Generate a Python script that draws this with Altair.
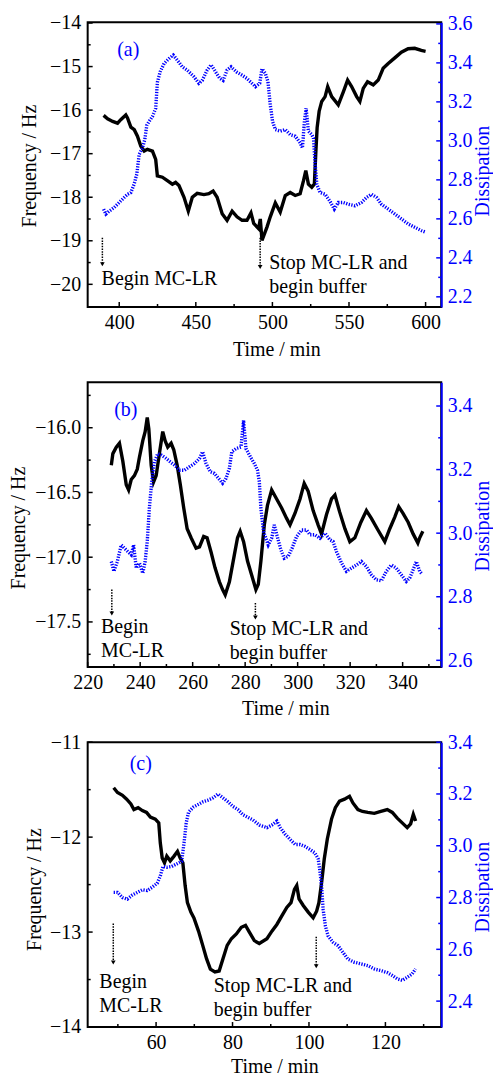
import altair as alt
import pandas as pd

FONT = "Liberation Serif"
BLUE = "#0000ff"
W, H = 355, 286

# ---------------- panel (a) ----------------
a_ft = [389.8, 392.4, 395.7, 398.9, 401.0, 404.3, 405.4, 407.6, 409.8, 411.9, 414.1, 416.3, 418.4, 421.7,
        423.8, 424.9, 428.2, 431.4, 434.7, 436.8, 439.0, 442.3, 445.1, 447.7, 450.9, 455.3, 458.5, 461.3,
        463.9, 467.2, 470.4, 473.7, 476.9, 480.2, 483.4, 486.0, 487.8, 491.0, 492.1, 493.2, 496.5, 498.6,
        501.9, 505.1, 508.4, 511.6, 514.9, 518.1, 520.3, 521.8, 523.5, 525.7, 527.4, 528.3, 529.2, 530.5,
        532.2, 534.4, 536.1, 538.7, 543.0, 546.3, 549.1, 551.7, 555.0, 557.1, 559.3, 562.1, 565.8, 569.1,
        572.3, 575.6, 579.9, 584.2, 588.6, 592.9, 597.2, 600.0]
a_fv = [-16.12, -16.2, -16.26, -16.3, -16.22, -16.11, -16.18, -16.39, -16.45, -16.6, -16.83, -16.94, -16.9, -16.94,
        -17.13, -17.51, -17.54, -17.62, -17.7, -17.66, -17.73, -18.0, -18.32, -18.0, -17.91, -17.94, -17.92, -17.86,
        -18.0, -18.38, -18.53, -18.32, -18.45, -18.53, -18.53, -18.36, -18.6, -18.72, -18.5, -18.99, -18.68, -18.45,
        -18.13, -18.34, -17.96, -17.89, -17.96, -17.92, -17.62, -17.39, -17.7, -17.77, -17.7, -17.0, -16.4, -16.03,
        -15.8, -15.69, -15.46, -15.69, -15.88, -15.58, -15.31, -15.46, -15.69, -15.8, -15.5, -15.35, -15.42, -15.31,
        -15.04, -14.93, -14.8, -14.67, -14.59, -14.58, -14.63, -14.65]
a_dt = [389.8, 391.3, 393.5, 396.7, 400.0, 403.3, 405.4, 407.6, 409.8, 411.5, 413.0, 415.2, 416.7, 418.0,
        419.5, 421.7, 423.8, 424.9, 426.7, 429.3, 432.5, 435.3, 437.9, 441.2, 444.4, 448.8, 452.0, 454.2,
        457.4, 460.0, 462.9, 465.7, 467.8, 470.4, 473.0, 476.5, 480.2, 483.4, 486.7, 488.9, 491.7, 493.2,
        495.4, 497.1, 498.6, 500.1, 501.9, 505.1, 508.4, 511.6, 514.9, 518.1, 519.6, 520.9, 522.0, 523.5,
        525.7, 526.8, 527.9, 529.0, 531.1, 534.4, 537.6, 540.4, 543.0, 546.3, 549.6, 553.9, 558.2, 561.5,
        564.7, 568.0, 571.2, 575.6, 579.9, 584.2, 588.6, 592.9, 597.2, 600.0]
a_dv = [2.65, 2.625, 2.64, 2.658, 2.684, 2.71, 2.726, 2.735, 2.78, 2.83, 2.93, 2.964, 3.007, 3.08,
        3.1, 3.125, 3.167, 3.3, 3.354, 3.397, 3.422, 3.44, 3.414, 3.38, 3.363, 3.329, 3.295, 3.31,
        3.363, 3.39, 3.354, 3.32, 3.31, 3.363, 3.38, 3.354, 3.337, 3.32, 3.295, 3.278, 3.295, 3.37,
        3.346, 3.303, 3.185, 3.1, 3.058, 3.05, 3.058, 3.032, 3.024, 2.99, 2.964, 3.1, 3.167, 3.05,
        3.032, 3.015, 2.88, 2.777, 2.735, 2.726, 2.69, 2.65, 2.684, 2.684, 2.675, 2.667, 2.684, 2.71,
        2.726, 2.71, 2.675, 2.65, 2.625, 2.6, 2.574, 2.557, 2.54, 2.532]

# ---------------- panel (b) ----------------
b_ft = [229.0, 229.6, 230.9, 232.1, 233.4, 234.7, 235.6, 236.6, 237.8, 238.9, 239.7, 241.0, 241.9, 242.7,
        243.3, 244.2, 245.1, 246.1, 247.4, 248.6, 249.5, 250.5, 251.8, 252.8, 254.1, 255.3, 256.6, 257.9,
        259.4, 261.3, 262.6, 264.2, 265.5, 267.0, 268.5, 270.2, 271.4, 272.4, 274.0, 275.9, 277.1, 278.1,
        279.4, 280.9, 282.5, 284.1, 285.0, 286.0, 287.3, 288.5, 290.1, 292.0, 293.9, 295.8, 297.1, 299.0,
        300.9, 302.5, 304.0, 305.9, 307.8, 309.1, 311.0, 312.9, 314.2, 316.0, 318.0, 319.9, 321.8, 324.1,
        326.2, 328.1, 330.6, 333.2, 335.1, 337.0, 338.5, 340.1, 342.1, 344.0, 345.8, 346.5, 347.7]
b_fv = [-16.29, -16.2, -16.15, -16.12, -16.26, -16.44, -16.48, -16.4, -16.37, -16.32, -16.23, -16.1, -16.03, -15.92,
        -16.01, -16.29, -16.42, -16.37, -16.19, -16.03, -16.1, -16.15, -16.12, -16.17, -16.29, -16.44, -16.62, -16.78,
        -16.85, -16.93, -16.92, -16.84, -16.85, -16.96, -17.08, -17.19, -17.25, -17.29, -17.19, -16.98, -16.85, -16.8,
        -16.88, -17.03, -17.14, -17.25, -17.21, -17.03, -16.75, -16.6, -16.48, -16.55, -16.62, -16.7, -16.75, -16.66,
        -16.55, -16.43, -16.49, -16.64, -16.75, -16.82, -16.67, -16.55, -16.52, -16.65, -16.78, -16.88, -16.85, -16.73,
        -16.64, -16.7, -16.79, -16.88, -16.78, -16.69, -16.61, -16.66, -16.73, -16.82, -16.89, -16.85, -16.8]
b_dt = [229.0, 230.0, 231.3, 232.8, 234.0, 235.3, 236.6, 237.5, 238.5, 239.7, 241.0, 241.9, 242.7, 243.5,
        244.4, 245.4, 246.7, 248.2, 249.9, 251.5, 253.1, 255.0, 256.9, 258.8, 260.7, 262.6, 263.8, 265.1,
        266.7, 268.3, 269.9, 271.4, 272.7, 274.0, 274.9, 276.5, 278.4, 279.4, 280.3, 282.0, 283.5, 284.7,
        285.4, 286.0, 287.0, 288.8, 290.1, 291.1, 292.4, 293.6, 294.9, 296.4, 297.9, 299.6, 301.5, 303.4,
        304.7, 306.6, 308.5, 310.4, 312.3, 313.5, 314.8, 316.7, 318.6, 320.5, 322.4, 324.3, 326.2, 328.1,
        330.0, 331.9, 333.8, 335.7, 337.6, 339.5, 341.4, 342.7, 344.0, 345.2, 346.5, 347.4]
b_dv = [2.911, 2.88, 2.911, 2.963, 2.953, 2.942, 2.932, 2.963, 2.89, 2.906, 2.874, 2.911, 2.974, 3.078,
        3.162, 3.224, 3.25, 3.245, 3.235, 3.224, 3.214, 3.198, 3.198, 3.209, 3.219, 3.235, 3.256, 3.219,
        3.193, 3.188, 3.172, 3.157, 3.172, 3.204, 3.256, 3.266, 3.271, 3.355, 3.266, 3.24, 3.219, 3.198,
        3.162, 3.078, 3.005, 2.963, 2.984, 3.026, 2.984, 2.948, 2.921, 2.927, 2.953, 2.989, 3.01, 3.01,
        2.995, 2.995, 2.984, 3.0, 2.979, 2.974, 2.942, 2.906, 2.88, 2.89, 2.9, 2.911, 2.895, 2.869,
        2.853, 2.85, 2.88, 2.9, 2.89, 2.869, 2.848, 2.859, 2.885, 2.911, 2.88, 2.871]

# ---------------- panel (c) ----------------
c_ft = [48.9, 49.9, 51.2, 52.3, 53.4, 54.2, 55.3, 56.4, 57.5, 58.5, 59.8, 60.7, 61.1, 61.6, 62.2, 62.8,
        63.7, 64.7, 65.6, 66.3, 67.0, 67.6, 68.2, 69.1, 69.9, 71.1, 72.2, 73.2, 74.2, 75.4, 76.5, 77.5,
        78.6, 79.7, 81.0, 82.3, 83.4, 84.4, 85.7, 87.0, 89.0, 90.3, 91.6, 92.9, 94.2, 95.3, 96.2, 96.8,
        97.4, 98.5, 99.8, 101.1, 102.0, 102.6, 103.3, 104.0, 104.8, 105.9, 106.9, 108.0, 109.3, 110.6,
        111.5, 112.8, 114.0, 115.4, 117.1, 118.8, 120.5, 121.8, 123.1, 124.4, 125.7, 126.6, 127.3, 127.9]
c_fv = [-11.48, -11.53, -11.56, -11.6, -11.65, -11.71, -11.69, -11.72, -11.74, -11.79, -11.81, -11.85, -12.06,
        -12.22, -12.27, -12.2, -12.25, -12.2, -12.15, -12.22, -12.27, -12.51, -12.69, -12.79, -12.85, -12.99,
        -13.14, -13.28, -13.39, -13.42, -13.41, -13.28, -13.14, -13.07, -13.02, -12.95, -12.93, -13.0, -13.09,
        -13.12, -13.07, -12.99, -12.92, -12.83, -12.74, -12.69, -12.55, -12.51, -12.65, -12.72, -12.79, -12.85,
        -12.78, -12.69, -12.48, -12.23, -12.02, -11.81, -11.69, -11.62, -11.6, -11.57, -11.64, -11.71, -11.73,
        -11.74, -11.75, -11.73, -11.71, -11.74, -11.8, -11.85, -11.9, -11.86, -11.76, -11.83]
c_dt = [48.9, 49.9, 51.2, 52.5, 53.8, 55.1, 56.4, 57.7, 59.0, 60.3, 61.1, 61.8, 62.8, 64.1, 65.4, 66.7,
        67.3, 67.9, 68.5, 69.8, 71.1, 72.3, 73.6, 74.9, 76.2, 77.5, 78.8, 80.1, 81.4, 82.7, 84.0, 85.3,
        87.0, 89.0, 90.3, 91.6, 92.5, 93.8, 95.1, 96.4, 97.7, 98.9, 100.2, 101.5, 102.4, 102.8, 103.3,
        103.7, 104.3, 105.0, 106.3, 107.6, 108.9, 110.2, 111.9, 113.6, 115.4, 117.1, 118.8, 120.5, 121.8,
        123.1, 124.4, 125.7, 127.0, 127.9]
c_dv = [2.82, 2.82, 2.8, 2.794, 2.81, 2.82, 2.83, 2.827, 2.84, 2.855, 2.883, 2.92, 2.917, 2.92, 2.93, 2.94,
        3.01, 3.09, 3.13, 3.15, 3.16, 3.17, 3.176, 3.185, 3.2, 3.185, 3.17, 3.152, 3.14, 3.12, 3.11, 3.1,
        3.08, 3.07, 3.08, 3.095, 3.07, 3.044, 3.024, 3.005, 3.005, 2.998, 2.986, 2.973, 2.95, 2.91, 2.845,
        2.755, 2.69, 2.652, 2.627, 2.614, 2.588, 2.562, 2.55, 2.544, 2.537, 2.524, 2.518, 2.51, 2.499,
        2.486, 2.48, 2.492, 2.505, 2.524]

PANELS = [
    dict(letter="(a)", letter_t=398.7, letter_f=-14.76,
         ft=a_ft, fv=a_fv, dt=a_dt, dv=a_dv,
         xdom=[379.4, 610.2], fdom=[-20.52, -13.98], ddom=[2.148, 3.609],
         xlab=[400, 450, 500, 550, 600], xmin=[425, 475, 525, 575],
         flab=[-14, -15, -16, -17, -18, -19, -20], fmin=[-14.5, -15.5, -16.5, -17.5, -18.5, -19.5], ffmt="d",
         dlab=[2.2, 2.4, 2.6, 2.8, 3.0, 3.2, 3.4, 3.6], dmin=[2.3, 2.5, 2.7, 2.9, 3.1, 3.3, 3.5],
         texts=[(388.5, -20.02, "Begin MC-LR"), (497.9, -19.64, "Stop MC-LR and"), (497.9, -20.2, "begin buffer")],
         arrows=[(389.0, -18.93, -19.54), (492.0, -18.93, -19.6)],
         ftx=-52.5, fty=1, dtx=47, dty=6, xtx=12, xty=49),
    dict(letter="(b)", letter_t=230.1, letter_f=-15.91,
         ft=b_ft, fv=b_fv, dt=b_dt, dv=b_dv,
         xdom=[220.0, 354.7], fdom=[-17.848, -15.648], ddom=[2.579, 3.475],
         xlab=[220, 240, 260, 280, 300, 320, 340], xmin=[230, 250, 270, 290, 310, 330, 350],
         flab=[-16.0, -16.5, -17.0, -17.5], fmin=[-15.75, -16.25, -16.75, -17.25, -17.75], ffmt=".1f",
         dlab=[2.6, 2.8, 3.0, 3.2, 3.4], dmin=[2.7, 2.9, 3.1, 3.3],
         texts=[(225.06, -17.585, "Begin"), (225.06, -17.77, "MC-LR"),
                (274.1, -17.6, "Stop MC-LR and"), (274.1, -17.787, "begin buffer")],
         arrows=[(229.2, -17.25, -17.435), (283.9, -17.354, -17.466)],
         ftx=-63, fty=3, dtx=47, dty=1, xtx=21, xty=48),
    dict(letter="(c)", letter_t=53.1, letter_f=-11.294,
         ft=c_ft, fv=c_fv, dt=c_dt, dv=c_dv,
         xdom=[42.1, 134.6], fdom=[-14.0, -11.0], ddom=[2.3, 3.4],
         xlab=[60, 80, 100, 120], xmin=[50, 70, 90, 110, 130],
         flab=[-11, -12, -13, -14], fmin=[-11.5, -12.5, -13.5], ffmt="d",
         dlab=[2.4, 2.6, 2.8, 3.0, 3.2, 3.4], dmin=[2.5, 2.7, 2.9, 3.1, 3.3],
         texts=[(45.16, -13.585, "Begin"), (45.16, -13.84, "MC-LR"),
                (75.1, -13.63, "Stop MC-LR and"), (75.1, -13.88, "begin buffer")],
         arrows=[(48.8, -12.91, -13.32), (101.9, -13.05, -13.36)],
         ftx=-47, fty=4.5, dtx=47, dty=2, xtx=10, xty=46),
]

MAJ, MIN = 5, 3


def make_panel(p):
    xs = alt.Scale(domain=p["xdom"], nice=False, zero=False)
    fs = alt.Scale(domain=p["fdom"], nice=False, zero=False)
    ds = alt.Scale(domain=p["ddom"], nice=False, zero=False)

    fdf = pd.DataFrame({"t": p["ft"], "v": p["fv"]})
    ddf = pd.DataFrame({"t": p["dt"], "v": p["dv"]})

    x_axis = alt.Axis(values=p["xlab"], format="d", title="Time / min", ticks=False, tickSize=0,
                      domain=False, grid=False, labelFont=FONT, labelFontSize=20, labelColor="black",
                      labelBaseline="alphabetic", labelPadding=22, labelFlush=False, labelOverlap=False,
                      titleFont=FONT, titleFontSize=20, titleFontWeight="normal", titleColor="black",
                      titleBaseline="alphabetic", titleAlign="center", titleX=W / 2 + p["xtx"], titleY=p["xty"])
    f_axis = alt.Axis(values=p["flab"], format=p["ffmt"], title="Frequency / Hz", orient="left",
                      ticks=False, tickSize=0, domain=False, grid=False, labelFont=FONT, labelFontSize=20,
                      labelColor="black", labelPadding=7, labelFlush=False, labelOverlap=False,
                      titleFont=FONT, titleFontSize=20, titleFontWeight="normal", titleColor="black",
                      titleAngle=270, titleBaseline="alphabetic", titleAlign="center",
                      titleX=p["ftx"], titleY=H / 2 + p["fty"])
    d_axis = alt.Axis(values=p["dlab"], format=".1f", title="Dissipation", orient="right",
                      ticks=False, tickSize=0, domain=True, domainColor=BLUE, domainWidth=2, grid=False,
                      labelFont=FONT, labelFontSize=20, labelColor=BLUE, labelPadding=6, labelFlush=False,
                      labelOverlap=False, titleFont=FONT, titleFontSize=20, titleFontWeight="normal",
                      titleColor=BLUE, titleAngle=270, titleBaseline="alphabetic", titleAlign="center",
                      titleX=p["dtx"], titleY=H / 2 + p["dty"])

    # main layers carry the axes; helper layers leave the axis unspecified so the
    # explicit settings above win when the shared axes are merged
    freq_line = alt.Chart(fdf).mark_line(color="black", strokeWidth=3.4).encode(
        x=alt.X("t:Q", scale=xs, axis=x_axis),
        y=alt.Y("v:Q", scale=fs, axis=f_axis),
    )

    def yticks(vals, scale, length, right, color):
        df = pd.DataFrame({"v": vals})
        x0 = W if right else 0
        x1 = W - length if right else length
        return alt.Chart(df).mark_rule(color=color, strokeWidth=1.5).encode(
            y=alt.Y("v:Q", scale=scale), x=alt.value(x0), x2=alt.value(x1))

    def xticks(vals, length):
        df = pd.DataFrame({"v": vals})
        return alt.Chart(df).mark_rule(color="black", strokeWidth=1.5).encode(
            x=alt.X("v:Q", scale=xs), y=alt.value(H), y2=alt.value(H - length))

    tdf = pd.DataFrame({"t": [a[0] for a in p["texts"]], "f": [a[1] for a in p["texts"]],
                        "s": [a[2] for a in p["texts"]]})
    texts = alt.Chart(tdf).mark_text(align="left", baseline="alphabetic", font=FONT, fontSize=20,
                                     color="black").encode(
        x=alt.X("t:Q", scale=xs), y=alt.Y("f:Q", scale=fs), text="s:N")

    adf = pd.DataFrame({"t": [a[0] for a in p["arrows"]], "f1": [a[1] for a in p["arrows"]],
                        "f2": [a[2] for a in p["arrows"]]})
    arrow_lines = alt.Chart(adf).mark_rule(color="black", strokeWidth=1.5, strokeDash=[1.5, 1.2]).encode(
        x=alt.X("t:Q", scale=xs), y=alt.Y("f1:Q", scale=fs), y2="f2:Q")
    arrow_heads = alt.Chart(adf).mark_point(shape="triangle-down", filled=True, size=22, color="black",
                                            opacity=1).encode(
        x=alt.X("t:Q", scale=xs), y=alt.Y("f2:Q", scale=fs))

    ldf = pd.DataFrame({"t": [p["letter_t"]], "f": [p["letter_f"]], "s": [p["letter"]]})
    letter = alt.Chart(ldf).mark_text(align="left", baseline="alphabetic", font=FONT, fontSize=20,
                                      color=BLUE).encode(
        x=alt.X("t:Q", scale=xs), y=alt.Y("f:Q", scale=fs), text="s:N")

    freq_layer = alt.layer(
        freq_line,
        yticks(p["flab"], fs, MAJ, False, "black"),
        yticks(p["fmin"], fs, MIN, False, "black"),
        xticks(p["xlab"], MAJ),
        xticks(p["xmin"], MIN),
        texts, arrow_lines, arrow_heads, letter,
    )

    dis_line = alt.Chart(ddf).mark_line(color=BLUE, strokeWidth=3.4, strokeDash=[1.3, 1.4]).encode(
        x=alt.X("t:Q", scale=xs),
        y=alt.Y("v:Q", scale=ds, axis=d_axis),
    )
    dis_layer = alt.layer(
        dis_line,
        yticks(p["dlab"], ds, MAJ, True, BLUE),
        yticks(p["dmin"], ds, MIN, True, BLUE),
    )

    return alt.layer(freq_layer, dis_layer).resolve_scale(y="independent").properties(width=W, height=H)


chart = alt.vconcat(*[make_panel(p) for p in PANELS], spacing=75.5, bounds="flush").properties(
    padding={"left": 0, "top": 1, "right": 0, "bottom": 0},
    background="white",
).configure_view(stroke="black", strokeWidth=2)

chart.save("out.html", embed_options={"renderer": "svg", "actions": False})
